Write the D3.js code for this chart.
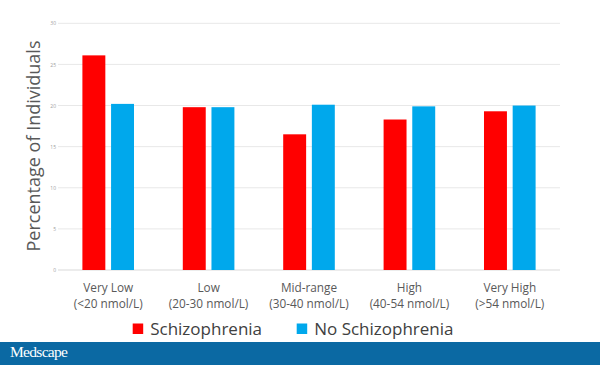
<!DOCTYPE html>
<html><head><meta charset="utf-8">
<script src="https://cdn.jsdelivr.net/npm/d3@7"></script>
<style>
html,body{margin:0;padding:0;background:#fff;}
svg{display:block;}
</style></head>
<body>
<script>
const categories = ["Very Low|(<20 nmol/L)", "Low|(20-30 nmol/L)", "Mid-range|(30-40 nmol/L)", "High|(40-54 nmol/L)", "Very High|(>54 nmol/L)"];
const seriesNames = ["Schizophrenia", "No Schizophrenia"];
const schizophrenia = [26.1, 19.8, 16.5, 18.3, 19.3];
const noSchizophrenia = [20.2, 19.8, 20.1, 19.9, 20.0];
const yTicks = [0, 5, 10, 15, 20, 25, 30];
const colors = ["#ff0000", "#00a8ec"];

const W = 600, H = 365;
const svg = d3.select("body").append("svg").attr("width", W).attr("height", H);

const x0 = d3.scaleBand().domain(categories).range([58, 560]).paddingInner(0.486).paddingOuter(0.243);
const x1 = d3.scaleBand().domain(seriesNames).range([0, x0.bandwidth()]).paddingInner(0.2);
const y = d3.scaleLinear().domain([0, 30]).range([270, 23.3]);

// gridlines
svg.append("g").selectAll("line").data(yTicks).join("line")
  .attr("x1", 58).attr("x2", 560)
  .attr("y1", d => y(d)).attr("y2", d => y(d))
  .attr("stroke", d => d === 0 ? "#d9d9d9" : "#e8e8e8").attr("stroke-width", 1);

// y tick labels via axis
const yAxis = svg.append("g").attr("transform", "translate(56,0)")
  .call(d3.axisLeft(y).tickValues(yTicks).tickSize(0).tickPadding(0));
yAxis.select(".domain").remove();
yAxis.selectAll("text").attr("font-family", "Open Sans, sans-serif").attr("font-size", 5).attr("fill", "#a0a0a0");

// bars
const data = categories.map((c, i) => ({cat: c, vals: [schizophrenia[i], noSchizophrenia[i]]}));
const g = svg.append("g").selectAll("g").data(data).join("g")
  .attr("transform", d => `translate(${x0(d.cat)},0)`);
g.selectAll("rect").data(d => d.vals.map((v, j) => ({s: seriesNames[j], v, j}))).join("rect")
  .attr("x", d => x1(d.s)).attr("width", x1.bandwidth())
  .attr("y", d => y(d.v)).attr("height", d => y(0) - y(d.v))
  .attr("fill", d => colors[d.j]);

// x labels
const xl = svg.append("g").selectAll("text").data(categories).join("text")
  .attr("x", d => x0(d) + x0.bandwidth() / 2)
  .attr("text-anchor", "middle")
  .attr("font-family", "Open Sans, sans-serif").attr("font-size", 11.8).attr("fill", "#595959");
xl.append("tspan").attr("x", d => x0(d) + x0.bandwidth() / 2).attr("y", 292).text(d => d.split("|")[0]);
xl.append("tspan").attr("x", d => x0(d) + x0.bandwidth() / 2).attr("y", 307.5).text(d => d.split("|")[1]);

// y title
svg.append("text").attr("transform", "translate(40,146) rotate(-90)")
  .attr("text-anchor", "middle").attr("font-family", "Open Sans, sans-serif")
  .attr("font-size", 18).attr("fill", "#595959").text("Percentage of Individuals");

// legend
const legX = [132.7, 296.7];
const lg = svg.append("g").selectAll("g").data(seriesNames).join("g");
lg.append("rect").attr("x", (d, i) => legX[i]).attr("y", 323.5).attr("width", 10.5).attr("height", 10.5)
  .attr("fill", (d, i) => colors[i]);
lg.append("text").attr("x", (d, i) => legX[i] + 17.5).attr("y", 334.5)
  .attr("font-family", "Open Sans, sans-serif").attr("font-size", 17).attr("fill", "#404040").text(d => d);

// footer
svg.append("rect").attr("x", 0).attr("y", 342).attr("width", W).attr("height", H - 342).attr("fill", "#0b69a3");
svg.append("text").attr("x", 10).attr("y", 357).attr("font-family", "Liberation Serif, serif")
  .attr("font-size", 15.5).attr("fill", "#ffffff").attr("letter-spacing", -0.7).text("Medscape");
</script>
</body></html>
